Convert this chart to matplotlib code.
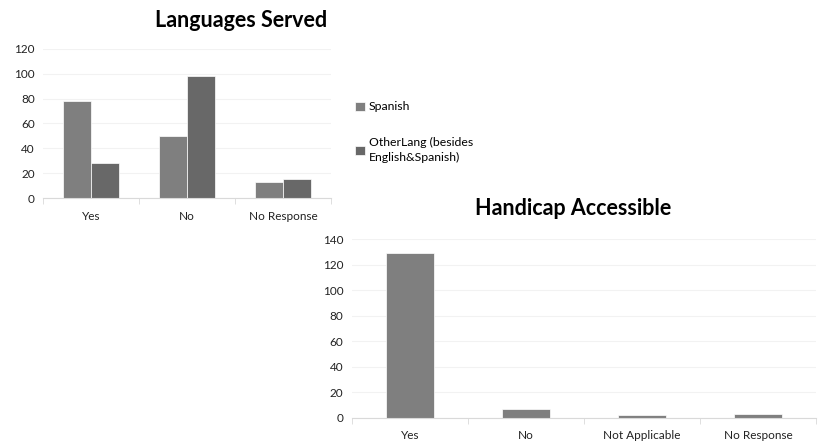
import numpy as np
import matplotlib
matplotlib.use("Agg")
import matplotlib.pyplot as plt

plt.rcParams['font.family'] = ['Lato', 'DejaVu Sans']

# Languages Served
lang_cats = ['Yes', 'No', 'No Response']
spanish = [78, 50, 13]
other_lang = [28, 98, 15]
lang_labels = ['Spanish', 'OtherLang (besides\nEnglish&Spanish)']

# Handicap Accessible
hc_cats = ['Yes', 'No', 'Not Applicable', 'No Response']
hc_vals = [129, 7, 2, 3]

c_span = '#7f7f7f'
c_other = '#686868'
grid_c = '#f2f2f2'
axis_c = '#d9d9d9'


def style_axes(ax, n, ymax, step):
    ax.set_xlim(-0.5, n - 0.5)
    ax.set_ylim(0, ymax)
    ax.set_yticks(np.arange(0, ymax + 1, step))
    ax.yaxis.grid(True, color=grid_c, linewidth=0.8)
    ax.set_axisbelow(True)
    for s in ['top', 'right', 'left']:
        ax.spines[s].set_visible(False)
    ax.spines['bottom'].set_color(axis_c)
    ax.tick_params(axis='y', length=0, labelsize=8.5, colors='#222222', pad=6)
    ax.tick_params(axis='x', length=0, labelsize=8.5, colors='#222222', pad=9)
    # small separators between categories
    ax.set_xticks(np.arange(-0.5, n, 1), minor=True)
    ax.tick_params(axis='x', which='minor', length=4, color=axis_c, direction='out')


fig = plt.figure(figsize=(8.18, 4.45), dpi=100)

ax1 = fig.add_axes([0.0526, 0.555, 0.352, 0.335])
x = np.arange(len(lang_cats))
w = 0.29
b1 = ax1.bar(x - w / 2, spanish, w, color=c_span, edgecolor='white', linewidth=0.5)
b2 = ax1.bar(x + w / 2, other_lang, w, color=c_other, edgecolor='white', linewidth=0.5)
ax1.set_xticks(x)
ax1.set_xticklabels(lang_cats)
style_axes(ax1, len(lang_cats), 120, 20)
fig.text(0.295, 0.955, 'Languages Served', ha='center', va='center',
         fontsize=15.5, fontweight='bold')

leg = fig.legend([b1, b2], lang_labels, loc='upper left', bbox_to_anchor=(0.4285, 0.783),
                 frameon=False, fontsize=8.8, handlelength=0.75, handleheight=0.75,
                 handletextpad=0.35, labelspacing=2.0, borderaxespad=0)
for t in leg.get_texts():
    t.set_linespacing(1.45)

ax2 = fig.add_axes([0.430, 0.0607, 0.568, 0.402])
x2 = np.arange(len(hc_cats))
ax2.bar(x2, hc_vals, 0.41, color=c_span, edgecolor='white', linewidth=0.5)
ax2.set_xticks(x2)
ax2.set_xticklabels(hc_cats)
style_axes(ax2, len(hc_cats), 140, 20)
fig.text(0.701, 0.532, 'Handicap Accessible', ha='center', va='center',
         fontsize=15.5, fontweight='bold')

fig.savefig('out.png', dpi=100)
